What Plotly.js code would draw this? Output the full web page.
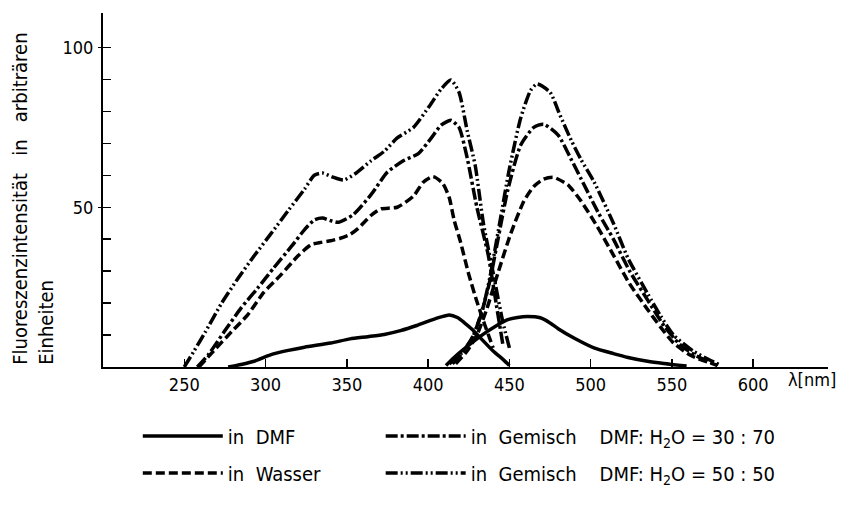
<!DOCTYPE html>
<html>
<head>
<meta charset="utf-8">
<script src="https://cdn.plot.ly/plotly-3.0.1.min.js"></script>
<style>html,body{margin:0;padding:0;background:#fff;}#chart{width:844px;height:505px;}</style>
</head>
<body>
<div id="chart"></div>
<script>
// ---- data (wavelength in nm, intensity in arbitrary units) ----
const dmfExX = [277, 285, 293, 303, 314, 324, 340, 352, 363, 373, 383, 393, 401, 408, 413, 418, 422, 427, 432, 440, 446, 450];
const dmfExY = [0, 0.8, 1.8, 3.8, 5.2, 6.2, 7.5, 8.8, 9.5, 10.2, 11.4, 13, 14.5, 15.7, 16.3, 15.5, 14, 11.8, 9.2, 5, 2.4, 0.5];
const dmfEmX = [411, 416, 422, 428, 434, 440, 449, 455, 461, 469, 475, 480, 490, 502, 514, 523, 535, 545, 559];
const dmfEmY = [0.5, 3, 5.6, 8, 10.3, 12.3, 14.8, 15.5, 15.8, 15.4, 13.8, 12, 9, 6, 4.2, 3, 1.8, 1.1, 0.3];

const wasExX = [259, 268, 279, 289, 299, 309, 320, 328, 334, 340, 346, 352, 357, 365, 371, 381, 391, 397, 403, 409, 413, 416, 420, 425, 430, 435, 440];
const wasExY = [0, 5, 11, 16.3, 23.4, 28.6, 34.8, 38.3, 39, 39.5, 40.3, 41.5, 43.4, 47.5, 49.5, 50, 53.5, 57.8, 59.6, 57.5, 53, 46, 39, 29, 20.5, 13, 6];
const wasEmX = [417, 424, 430, 436, 443, 451, 459, 465, 471, 477, 486, 494, 504, 514, 524, 535, 543, 551, 562, 578];
const wasEmY = [1, 5, 10, 18, 29.5, 42, 52, 56.5, 58.8, 59.4, 57, 52, 44, 35, 26, 18, 12.5, 7.5, 3.5, 0.5];

const g37ExX = [258, 265, 274.5, 285, 295, 305, 316, 324, 330, 335, 340, 345, 354, 365, 375, 385, 394, 402, 408, 414, 419, 424, 430, 437, 442, 446];
const g37ExY = [0, 4, 11, 18.5, 24.6, 31, 37.8, 43, 46, 46.6, 45.8, 45.3, 47.7, 54, 61, 64.6, 66.8, 71.7, 75.7, 77.2, 75, 65.5, 50, 35, 19.4, 7];
const g37EmX = [415, 422, 428, 434, 438, 443, 449, 457, 465, 471, 480, 488, 494, 505, 514, 524, 535, 545, 555, 565, 578];
const g37EmY = [1, 5, 10, 19, 27, 40, 55.4, 69.5, 75, 76, 72.6, 65, 59, 48, 40, 30, 21, 13, 7, 3.5, 0.5];

const g55ExX = [250, 256, 263, 273, 283, 293, 303, 314, 324, 330, 335, 341, 348, 356, 365, 373, 381, 391, 401, 408, 414, 419, 424, 429, 434, 440, 446, 450];
const g55ExY = [0, 5, 11, 20, 27.7, 34.8, 41.5, 49, 55.7, 60, 60.7, 59.5, 58.5, 60.8, 64.6, 67.5, 71.7, 75, 81.8, 87, 89.8, 86, 74, 63, 45, 29.5, 14, 6];
const g55EmX = [413, 420, 427, 433, 438, 444, 450, 457, 463, 467, 475, 481, 488, 494, 502, 514, 523, 535, 543, 551, 563, 572, 580];
const g55EmY = [1, 4, 9, 17, 28, 45, 62, 78, 86.5, 88.6, 86, 79, 71, 65, 58, 45, 34, 23, 16, 10, 5, 2.5, 0.5];

const NB = "\u00a0";
const seriesNames = [
  "in" + NB + NB + "DMF",
  "in" + NB + NB + "Wasser",
  "in" + NB + NB + "Gemisch" + NB.repeat(4) + "DMF:" + NB + "H<sub>2</sub>O" + NB + "=" + NB + "30" + NB + ":" + NB + "70",
  "in" + NB + NB + "Gemisch" + NB.repeat(4) + "DMF:" + NB + "H<sub>2</sub>O" + NB + "=" + NB + "50" + NB + ":" + NB + "50"
];
const xTickVals = [250, 300, 350, 400, 450, 500, 550, 600];
const yMinorTickVals = [10, 20, 30, 40, 50, 60, 70, 80, 90, 100];
const yLabelledVals = [50, 100];
const yTitleText = "Fluoreszenzintensität" + NB.repeat(3) + "in" + NB.repeat(3) + "arbiträren<br>Einheiten";
const xUnitText = "λ[nm]";

// ---- build traces ----
function join(ax, ay, bx, by) {
  return {x: ax.concat([null], bx), y: ay.concat([null], by)};
}
const FONT = "DejaVu Sans Condensed, DejaVu Sans, Liberation Sans, Arial, sans-serif";
const defs = [
  {d: join(dmfExX, dmfExY, dmfEmX, dmfEmY), dash: "solid", legend: "legend"},
  {d: join(wasExX, wasExY, wasEmX, wasEmY), dash: "9px,4px", legend: "legend"},
  {d: join(g37ExX, g37ExY, g37EmX, g37EmY), dash: "12px,3px,3px,3px", legend: "legend2"},
  {d: join(g55ExX, g55ExY, g55EmX, g55EmY), dash: "12px,3px,2px,3px,2px,3px", legend: "legend2"}
];
const traces = defs.map((s, i) => ({
  type: "scatter",
  mode: "lines",
  x: s.d.x,
  y: s.d.y,
  name: seriesNames[i],
  legend: s.legend,
  legendgroup: "g" + i,
  connectgaps: false,
  line: {color: "#000", width: 3.5, dash: s.dash, shape: "spline", smoothing: 0.6}
}));
// helper trace on the overlay axis that carries the labelled ticks at 50 and 100
traces.push({
  type: "scatter", mode: "lines", x: [null], y: [null], yaxis: "y2",
  showlegend: false, hoverinfo: "skip"
});

const legendCommon = {
  orientation: "v",
  xanchor: "left",
  yanchor: "top",
  y: -0.14,
  bgcolor: "rgba(0,0,0,0)",
  font: {family: FONT, size: 20, color: "#000"},
  tracegroupgap: 8,
  itemwidth: 80
};

const layout = {
  width: 844,
  height: 505,
  margin: {l: 103, r: 16, t: 13, b: 132},
  paper_bgcolor: "#fff",
  plot_bgcolor: "#fff",
  showlegend: true,
  font: {family: FONT, size: 16, color: "#000"},
  xaxis: {
    range: [200, 646],
    showgrid: false,
    zeroline: false,
    showline: true,
    linecolor: "#000",
    linewidth: 2,
    ticks: "inside",
    ticklen: 8,
    tickwidth: 1.5,
    tickcolor: "#000",
    tickvals: xTickVals,
    ticktext: xTickVals.map(String),
    tickfont: {family: FONT, size: 18, color: "#000"}
  },
  yaxis: {
    range: [0, 110.8],
    showgrid: false,
    zeroline: false,
    showline: true,
    linecolor: "#000",
    linewidth: 2,
    ticks: "inside",
    ticklen: 8,
    tickwidth: 1.5,
    tickcolor: "#000",
    tickvals: yMinorTickVals,
    showticklabels: false
  },
  yaxis2: {
    overlaying: "y",
    side: "left",
    range: [0, 110.8],
    showgrid: false,
    zeroline: false,
    showline: false,
    ticks: "outside",
    ticklen: 4,
    tickwidth: 1.5,
    tickcolor: "#000",
    tickvals: yLabelledVals,
    ticktext: yLabelledVals.map(String),
    ticklabelstandoff: 1,
    tickfont: {family: FONT, size: 18, color: "#000"}
  },
  legend: Object.assign({}, legendCommon, {x: 0.048}),
  legend2: Object.assign({}, legendCommon, {x: 0.383}),
  annotations: [
    {
      text: yTitleText,
      textangle: -90,
      align: "left",
      xref: "paper", yref: "paper",
      x: -0.134, xanchor: "left",
      y: 0, yanchor: "bottom",
      showarrow: false,
      font: {family: FONT, size: 20, color: "#000"}
    },
    {
      text: xUnitText,
      xref: "x", yref: "paper",
      x: 620, xanchor: "left",
      y: -0.036, yanchor: "middle",
      showarrow: false,
      font: {family: FONT, size: 18, color: "#000"}
    }
  ]
};

Plotly.newPlot("chart", traces, layout, {displayModeBar: false, staticPlot: true});
</script>
</body>
</html>
